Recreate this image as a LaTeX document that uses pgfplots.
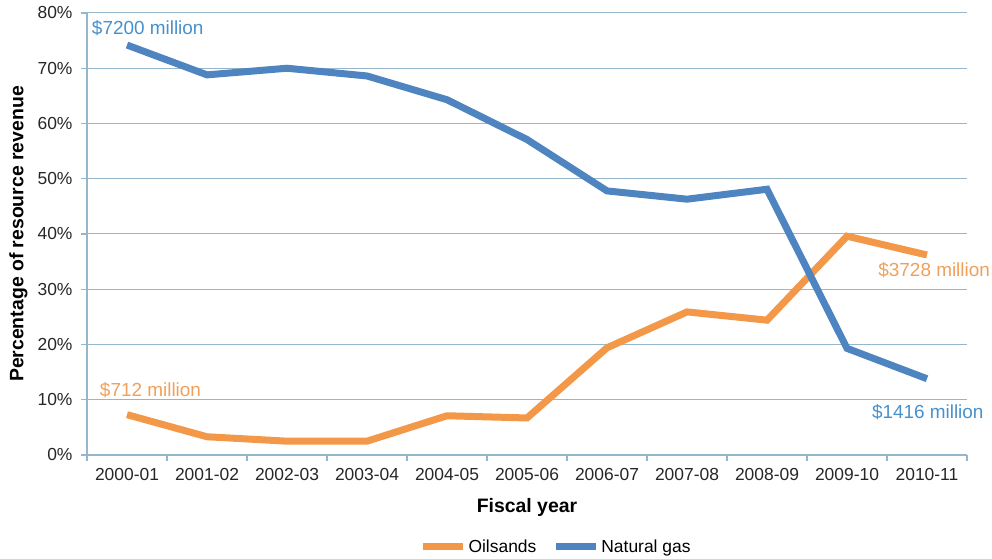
\documentclass[border=0pt]{standalone}
\usepackage{fontspec}
\setmainfont{Liberation Sans}
\usepackage{pgfplots}
\pgfplotsset{compat=1.18}
\definecolor{oil}{RGB}{242,152,72}
\definecolor{gas}{RGB}{78,132,192}
\definecolor{gridc}{RGB}{150,182,204}
\definecolor{oiltxt}{RGB}{240,160,90}
\definecolor{gastxt}{RGB}{70,145,205}
\begin{document}
\begin{tikzpicture}
\begin{axis}[
  scale only axis,
  width=880bp, height=442bp,
  xmin=-0.5, xmax=10.5, ymin=0, ymax=80,
  clip=false,
  axis x line*=bottom, axis y line*=left,
  axis line style={gridc, line width=1.2bp},
  xtick={0,...,10},
  xticklabels={2000-01,2001-02,2002-03,2003-04,2004-05,2005-06,2006-07,2007-08,2008-09,2009-10,2010-11},
  minor xtick={-0.5,0.5,...,10.5},
  ytick={0,10,...,80},
  yticklabels={0\%,10\%,20\%,30\%,40\%,50\%,60\%,70\%,80\%},
  tick align=outside,
  major tick length=6bp, minor tick length=6bp,
  x tick style={draw=none},
  minor x tick style={draw=gridc, line width=1.2bp},
  y tick style={draw=gridc, line width=1.2bp},
  ymajorgrids,
  grid style={gridc, line width=1bp},
  ticklabel style={font=\fontsize{17.5}{20}\selectfont, text=black!85},
  xticklabel style={yshift=-4bp},
  yticklabel style={xshift=-5bp},
  xlabel={Fiscal year},
  ylabel={Percentage of resource revenue},
  label style={font=\fontsize{19.5}{22}\selectfont\bfseries},
  xlabel style={at={(axis description cs:0.5,-0.118)}, anchor=center},
  ylabel style={at={(axis description cs:-0.078,0.5)}, anchor=center},
  legend columns=2,
  legend style={at={(axis description cs:0.533,-0.208)}, anchor=center, draw=none,
    font=\fontsize{17.5}{20}\selectfont, /tikz/every even column/.append style={column sep=14bp},
    inner sep=0pt},
  legend image code/.code={\draw[#1] (0bp,0bp) -- (40bp,0bp);},
]
\addplot[oil, line width=7bp] coordinates {
(0,7.3) (1,3.3) (2,2.5) (3,2.5) (4,7.1) (5,6.7) (6,19.4) (7,25.9) (8,24.4) (9,39.6) (10,36.2)};
\addlegendentry{Oilsands}
\addplot[gas, line width=7bp] coordinates {
(0,74.2) (1,68.8) (2,70.0) (3,68.6) (4,64.3) (5,57.1) (6,47.8) (7,46.3) (8,48.1) (9,19.3) (10,13.8)};
\addlegendentry{Natural gas}
\node[anchor=west, text=gastxt, font=\fontsize{19}{22}\selectfont, inner sep=0pt] at (axis cs:-0.44,77.3) {\$7200 million};
\node[anchor=west, text=oiltxt, font=\fontsize{19}{22}\selectfont, inner sep=0pt] at (axis cs:-0.34,11.8) {\$712 million};
\node[anchor=west, text=oiltxt, font=\fontsize{19}{22}\selectfont, inner sep=0pt] at (axis cs:9.39,33.5) {\$3728 million};
\node[anchor=west, text=gastxt, font=\fontsize{19}{22}\selectfont, inner sep=0pt] at (axis cs:9.31,7.8) {\$1416 million};
\end{axis}
\pgfresetboundingbox
\path (current axis.south west) ++(-87bp,-104bp) coordinate (bl);
\path (current axis.north east) ++(25bp,13bp) coordinate (tr);
\path[use as bounding box] (bl) rectangle (tr);
\end{tikzpicture}
\end{document}
